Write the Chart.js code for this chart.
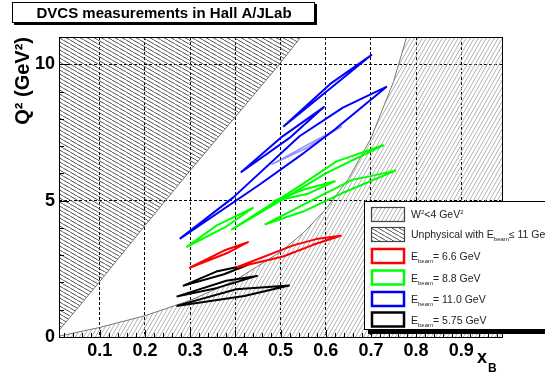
<!DOCTYPE html>
<html>
<head>
<meta charset="utf-8">
<script src="https://cdn.jsdelivr.net/npm/chart.js@4.4.1/dist/chart.umd.min.js"></script>
<style>
  html, body { margin: 0; padding: 0; background: #fff; overflow: hidden; }
  canvas { display: block; }
</style>
</head>
<body>
<canvas id="c" width="545" height="374"></canvas>
<script>
const FONT = '"Liberation Sans", Arial, Helvetica, sans-serif';

// Axis ticks
const xTickValues = [0.1, 0.2, 0.3, 0.4, 0.5, 0.6, 0.7, 0.8, 0.9];
const yTickValues = [0, 5, 10];

// Kinematic limits
const unphysX  = [0.01, 0.1, 0.2, 0.3, 0.4, 0.5, 0.545];
const unphysQ2 = [0.24, 2.03, 4.08, 6.1, 8.07, 10.05, 11.0];
const w2X  = [0.01, 0.1, 0.2, 0.3, 0.4, 0.5, 0.55, 0.6, 0.65, 0.7, 0.75, 0.779, 0.99];
const w2Q2 = [0.03, 0.35, 0.78, 1.34, 2.08, 3.12, 3.81, 4.68, 5.79, 7.28, 9.36, 11.0, 11.0];

// Acceptance contours, vertices as [xB, Q2]
const e66_low  = [[0.298, 2.53], [0.375, 3.17], [0.428, 3.48], [0.385, 3.10]];
const e66_high = [[0.402, 2.55], [0.528, 3.36], [0.579, 3.59], [0.633, 3.71], [0.572, 3.38], [0.506, 2.95]];

const e88_a = [[0.292, 3.30], [0.36, 4.10], [0.439, 4.73], [0.38, 4.05]];
const e88_b = [[0.391, 3.93], [0.542, 5.53], [0.624, 6.44], [0.727, 7.03], [0.60, 6.00], [0.50, 5.00]];
const e88_c = [[0.465, 4.12], [0.58, 5.10], [0.660, 5.77], [0.697, 5.89], [0.754, 6.10], [0.64, 5.30], [0.55, 4.60]];
const e88_d = [[0.483, 4.97], [0.55, 5.40], [0.620, 5.71], [0.56, 5.25]];

const e110_top   = [[0.506, 7.71], [0.61, 9.28], [0.701, 10.34]];
const e110_mid   = [[0.412, 6.03], [0.50, 7.30], [0.596, 8.43], [0.52, 7.30]];
const e110_low   = [[0.277, 3.60], [0.395, 5.11], [0.542, 7.36], [0.638, 8.41], [0.734, 9.17],
                    [0.620, 7.61], [0.542, 6.63], [0.454, 5.59]];
const e110_faint = [[0.480, 6.32], [0.56, 7.05], [0.635, 7.71], [0.56, 6.95]];

const e575_a = [[0.284, 1.875], [0.358, 2.40], [0.428, 2.65], [0.375, 2.30]];
const e575_b = [[0.270, 1.48], [0.380, 2.06], [0.448, 2.24], [0.36, 1.80]];
const e575_c = [[0.270, 1.14], [0.402, 1.75], [0.519, 1.89], [0.42, 1.50]];

// Legend entries for the beam energies
const beamLabels = ['6.6', '8.8', '11.0', '5.75'];
const beamColors = ['#ff0000', '#00ff00', '#0000ff', '#000000'];

// Hatch tile: dir > 0 draws "/", dir < 0 draws "\"
function hatch(color, w, h, dir) {
  const c = document.createElement('canvas');
  c.width = w; c.height = h;
  const g = c.getContext('2d');
  g.strokeStyle = color;
  g.lineWidth = 1;
  for (const ox of [-w, 0, w]) {
    g.beginPath();
    if (dir > 0) { g.moveTo(ox, h); g.lineTo(ox + w, 0); }
    else { g.moveTo(ox, 0); g.lineTo(ox + w, h); }
    g.stroke();
  }
  return g.createPattern(c, 'repeat');
}
const darkHatch = hatch('#555', 7, 4, -1);
const lightHatch = hatch('#b0b0b0', 4, 7, 1);

const toPts = (xs, ys) => xs.map((x, i) => ({ x, y: ys[i] }));
const closed = (vs) => { const p = vs.map(([x, y]) => ({ x, y })); p.push({ ...p[0] }); return p; };

function contour(vs, color, width) {
  return {
    data: closed(vs), borderColor: color, borderWidth: width || 2, fill: false,
    pointRadius: 0, tension: 0, borderJoinStyle: 'round', order: 1
  };
}

const datasets = [
  { label: 'unphysical', data: toPts(unphysX, unphysQ2), fill: 'end', backgroundColor: darkHatch,
    borderColor: '#777', borderWidth: 1, pointRadius: 0, order: 10 },
  { label: 'W2', data: toPts(w2X, w2Q2), fill: 'start', backgroundColor: lightHatch,
    borderColor: '#777', borderWidth: 1, pointRadius: 0, order: 9 },
  contour(e66_low, beamColors[0]), contour(e66_high, beamColors[0]),
  contour(e88_a, beamColors[1]), contour(e88_b, beamColors[1]), contour(e88_c, beamColors[1]), contour(e88_d, beamColors[1]),
  contour(e110_top, beamColors[2]), contour(e110_mid, beamColors[2]), contour(e110_low, beamColors[2]),
  contour(e110_faint, 'rgba(60,60,255,0.55)', 1.5),
  contour(e575_a, beamColors[3]), contour(e575_b, beamColors[3]), contour(e575_c, beamColors[3])
];

// Draws a run of text pieces; each piece is [text, 'n' | 'sub' | 'sup']
function richText(g, parts, x, y, size, weight) {
  let cx = x;
  for (const [t, kind] of parts) {
    const s = kind === 'n' ? size : Math.round(size * 0.6);
    const dy = kind === 'sub' ? size * 0.32 : kind === 'sup' ? -size * 0.42 : 0;
    g.font = `${weight || 'normal'} ${s}px ${FONT}`;
    g.fillText(t, cx, y + dy);
    cx += g.measureText(t).width;
  }
}

const framePlugin = {
  id: 'frameAndTicks',
  afterDatasetsDraw(chart) {
    const g = chart.ctx, a = chart.chartArea;
    const xs = chart.scales.x, ys = chart.scales.y;
    g.save();
    g.strokeStyle = '#000';
    g.lineWidth = 1;
    g.beginPath();
    // minor and major ticks along the bottom axis, pointing inward
    for (let i = 1; i <= 49; i++) {
      const v = i * 0.02;
      const px = Math.round(xs.getPixelForValue(v)) + 0.5;
      const len = (i % 5 === 0) ? 7 : 4;
      g.moveTo(px, a.bottom); g.lineTo(px, a.bottom - len);
    }
    // ticks along the left axis
    for (let v = 1; v <= 10; v++) {
      const py = Math.round(ys.getPixelForValue(v)) + 0.5;
      const len = (v % 5 === 0) ? 10 : 5;
      g.moveTo(a.left, py); g.lineTo(a.left + len, py);
    }
    g.stroke();
    g.strokeRect(Math.round(a.left) + 0.5, Math.round(a.top) + 0.5,
                 Math.round(a.right - a.left), Math.round(a.bottom - a.top));
    g.restore();
  }
};

const decorPlugin = {
  id: 'decor',
  afterDraw(chart) {
    const g = chart.ctx;
    g.save();
    g.fillStyle = '#000';
    g.textBaseline = 'alphabetic';
    g.textAlign = 'left';

    // x-axis title
    richText(g, [['x', 'n']], 477, 363, 18, 'bold');
    g.font = `bold 12px ${FONT}`;
    g.fillText('B', 488, 372);

    // Title box with shadow
    g.fillStyle = '#000';
    g.fillRect(14, 4, 303, 21);
    g.fillStyle = '#fff';
    g.fillRect(12, 2, 303, 21);
    g.strokeStyle = '#000';
    g.lineWidth = 1;
    g.strokeRect(12.5, 2.5, 302, 20);
    g.fillStyle = '#000';
    g.font = `bold 15px ${FONT}`;
    g.textAlign = 'center';
    g.fillText('DVCS measurements in Hall A/JLab', 164, 18);

    // Legend box with shadow
    g.textAlign = 'left';
    g.fillStyle = '#000';
    g.fillRect(368, 205, 200, 129);
    g.fillStyle = '#fff';
    g.fillRect(364, 201, 200, 129);
    g.strokeStyle = '#000';
    g.strokeRect(364.5, 201.5, 200, 128);

    const rows = [214, 234, 256, 277.5, 299, 319.5];
    const sx = 371, sw = 33, sh = 14, tx = 411, fs = 10.5;
    // hatched swatches
    g.fillStyle = lightHatch;
    g.fillRect(sx, rows[0] - sh / 2, sw, sh);
    g.fillStyle = darkHatch;
    g.fillRect(sx, rows[1] - sh / 2, sw, sh);
    g.strokeStyle = '#444';
    g.lineWidth = 1.2;
    g.strokeRect(sx + 0.5, rows[0] - sh / 2 + 0.5, sw, sh);
    g.strokeRect(sx + 0.5, rows[1] - sh / 2 + 0.5, sw, sh);

    g.fillStyle = '#222';
    richText(g, [['W', 'n'], ['2', 'sup'], ['<4 GeV', 'n'], ['2', 'sup']], tx, rows[0] + 4, fs);
    richText(g, [['Unphysical with E', 'n'], ['beam', 'sub'], ['\u2264 11 GeV', 'n']], tx, rows[1] + 4, fs);

    beamLabels.forEach((lab, i) => {
      const cy = rows[i + 2];
      g.strokeStyle = beamColors[i];
      g.lineWidth = 2.5;
      g.strokeRect(sx + 1, cy - sh / 2, sw - 1, sh);
      g.fillStyle = '#222';
      richText(g, [['E', 'n'], ['beam', 'sub'], ['= ' + lab + ' GeV', 'n']], tx, cy + 4, fs);
    });
    g.restore();
  }
};

new Chart(document.getElementById('c').getContext('2d'), {
  type: 'line',
  data: { datasets },
  plugins: [framePlugin, decorPlugin],
  options: {
    responsive: false,
    animation: false,
    events: [],
    layout: { padding: { top: 37, right: 43, left: 0, bottom: 0 } },
    plugins: { legend: { display: false }, tooltip: { enabled: false }, title: { display: false } },
    scales: {
      x: {
        type: 'linear', min: 0.01, max: 0.99,
        afterFit: (s) => { s.height = 37; },
        afterBuildTicks: (s) => { s.ticks = xTickValues.map(v => ({ value: v })); },
        grid: { color: '#000', lineWidth: 1, drawTicks: false },
        border: { display: false, dash: [3, 2] },
        ticks: {
          color: '#000', padding: 3, maxRotation: 0, autoSkip: false,
          font: { family: FONT, size: 18, weight: 'bold' },
          callback: (v) => String(+(+v).toFixed(2))
        }
      },
      y: {
        type: 'linear', min: 0, max: 11,
        afterFit: (s) => { s.width = 59; },
        afterBuildTicks: (s) => { s.ticks = yTickValues.map(v => ({ value: v })); },
        grid: { color: '#000', lineWidth: 1, drawTicks: false },
        border: { display: false, dash: [3, 2] },
        ticks: {
          color: '#000', padding: 4,
          font: { family: FONT, size: 18, weight: 'bold' },
          callback: (v) => String(v)
        },
        title: {
          display: true, text: 'Q\u00B2 (GeV\u00B2)', align: 'end', color: '#000',
          font: { family: FONT, size: 20, weight: 'bold' },
          padding: { top: 11, bottom: 0 }
        }
      }
    }
  }
});
</script>
</body>
</html>
